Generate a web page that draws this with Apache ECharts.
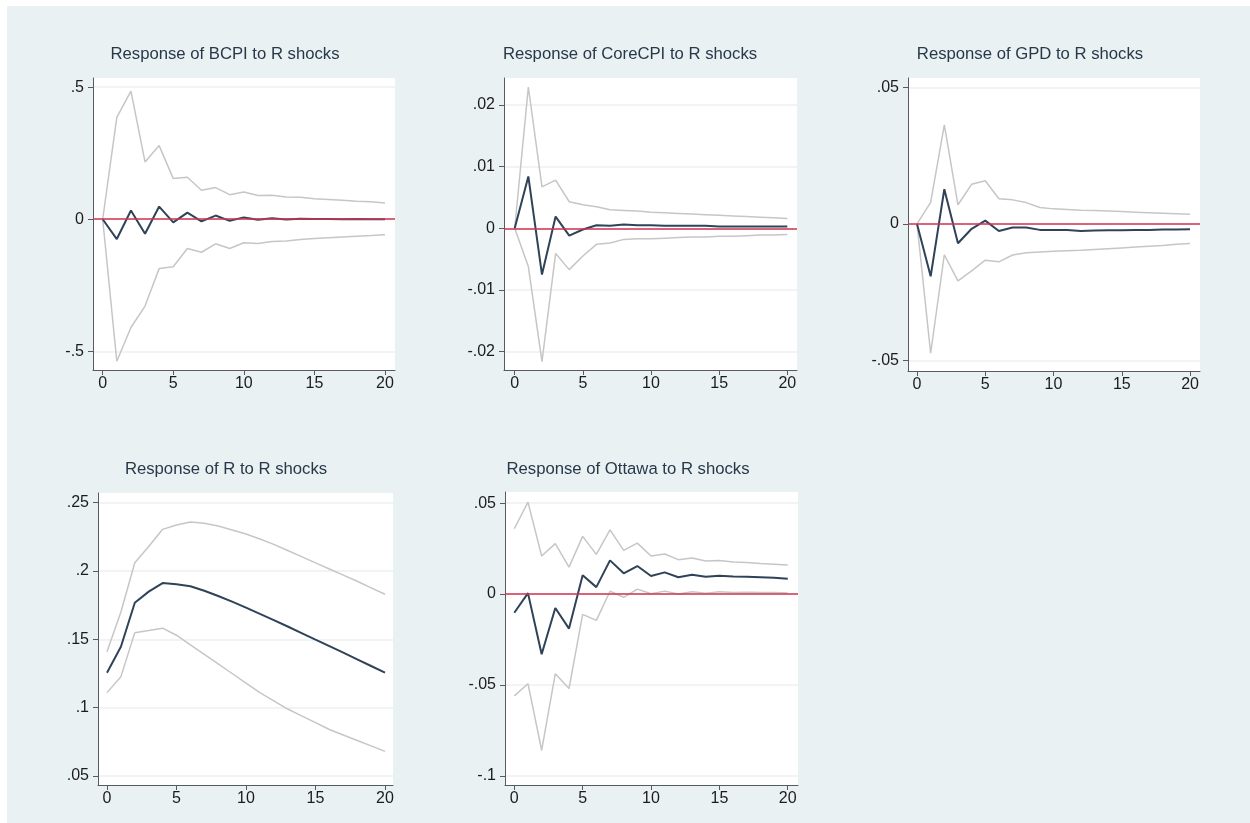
<!DOCTYPE html>
<html>
<head>
<meta charset="utf-8">
<title>Impulse responses to R shocks</title>
<script src="https://cdn.jsdelivr.net/npm/echarts@6/dist/echarts.min.js"></script>
<style>
  html, body { margin: 0; padding: 0; background: #ffffff; }
  #chart { position: absolute; left: 7px; top: 6px; width: 1243px; height: 817px; }
</style>
</head>
<body>
<div id="chart"></div>
<script>
// 期数 (horizon)
const periods = [0, 1, 2, 3, 4, 5, 6, 7, 8, 9, 10, 11, 12, 13, 14, 15, 16, 17, 18, 19, 20];
const xTicks = [0, 5, 10, 15, 20];

// BCPI
const bcpiIrf = [0, -0.075, 0.033, -0.055, 0.048, -0.012, 0.025, -0.008, 0.014, -0.006, 0.007, -0.002, 0.004, -0.001, 0.002, 0.001, 0.001, 0.0, 0.001, 0.0, 0.0];
const bcpiUpper = [0, 0.386, 0.485, 0.217, 0.279, 0.154, 0.159, 0.110, 0.120, 0.093, 0.103, 0.090, 0.091, 0.084, 0.083, 0.078, 0.075, 0.072, 0.068, 0.066, 0.062];
const bcpiLower = [0, -0.538, -0.410, -0.329, -0.187, -0.180, -0.111, -0.125, -0.093, -0.111, -0.089, -0.092, -0.084, -0.082, -0.077, -0.073, -0.070, -0.067, -0.064, -0.062, -0.059];
const bcpiTicks = [-0.5, 0, 0.5];

// CoreCPI
const coreIrf = [0, 0.0084, -0.0075, 0.0019, -0.0012, -0.0002, 0.0005, 0.0004, 0.0006, 0.0005, 0.0005, 0.0004, 0.0004, 0.0004, 0.0004, 0.0003, 0.0003, 0.0003, 0.0003, 0.0003, 0.0003];
const coreUpper = [0, 0.0229, 0.0067, 0.0078, 0.0043, 0.0038, 0.0035, 0.0030, 0.0029, 0.0028, 0.0026, 0.0025, 0.0024, 0.0023, 0.0022, 0.0021, 0.0020, 0.0019, 0.0018, 0.0017, 0.0016];
const coreLower = [0, -0.0062, -0.0216, -0.0041, -0.0067, -0.0045, -0.0026, -0.0024, -0.0018, -0.0017, -0.0017, -0.0016, -0.0015, -0.0014, -0.0014, -0.0013, -0.0013, -0.0012, -0.0011, -0.0011, -0.0010];
const coreTicks = [-0.02, -0.01, 0, 0.01, 0.02];

// GPD
const gpdIrf = [0, -0.0192, 0.0127, -0.0071, -0.0018, 0.0012, -0.0026, -0.0013, -0.0013, -0.0022, -0.0022, -0.0022, -0.0026, -0.0024, -0.0023, -0.0023, -0.0022, -0.0022, -0.0021, -0.0021, -0.0020];
const gpdUpper = [0, 0.0079, 0.0363, 0.0070, 0.0145, 0.0158, 0.0092, 0.0088, 0.0078, 0.0060, 0.0055, 0.0053, 0.0050, 0.0049, 0.0047, 0.0045, 0.0043, 0.0041, 0.0039, 0.0037, 0.0035];
const gpdLower = [0, -0.0474, -0.0113, -0.0209, -0.0172, -0.0133, -0.0139, -0.0114, -0.0106, -0.0103, -0.0100, -0.0098, -0.0097, -0.0094, -0.0091, -0.0088, -0.0085, -0.0082, -0.0079, -0.0075, -0.0072];
const gpdTicks = [-0.05, 0, 0.05];

// R
const rIrf = [0.1256, 0.1446, 0.1768, 0.1849, 0.1912, 0.1903, 0.1889, 0.1856, 0.1817, 0.1776, 0.1732, 0.1686, 0.1641, 0.1594, 0.1546, 0.1498, 0.1451, 0.1403, 0.1353, 0.1305, 0.1256];
const rUpper = [0.141, 0.170, 0.206, 0.218, 0.2305, 0.2337, 0.2358, 0.2349, 0.2329, 0.2300, 0.2271, 0.2234, 0.2195, 0.2150, 0.2105, 0.2060, 0.2015, 0.1970, 0.1925, 0.1877, 0.1830];
const rLower = [0.111, 0.1227, 0.1549, 0.1565, 0.1582, 0.153, 0.146, 0.139, 0.132, 0.125, 0.118, 0.111, 0.105, 0.099, 0.094, 0.089, 0.084, 0.080, 0.076, 0.072, 0.068];
const rTicks = [0.05, 0.1, 0.15, 0.2, 0.25];

// Ottawa
const ottIrf = [-0.0103, 0.0005, -0.0331, -0.0077, -0.0190, 0.0103, 0.0038, 0.0185, 0.0114, 0.0154, 0.0099, 0.0119, 0.0092, 0.0106, 0.0095, 0.0100, 0.0096, 0.0095, 0.0092, 0.0089, 0.0084];
const ottUpper = [0.0359, 0.0505, 0.0209, 0.0277, 0.0148, 0.0317, 0.0218, 0.0353, 0.0240, 0.0280, 0.0209, 0.0220, 0.0189, 0.0198, 0.0182, 0.0185, 0.0176, 0.0173, 0.0168, 0.0164, 0.0159];
const ottLower = [-0.0560, -0.0493, -0.0859, -0.0438, -0.0520, -0.0112, -0.0145, 0.0015, -0.0018, 0.0027, 0.0002, 0.0016, 0.0000, 0.0013, 0.0005, 0.0012, 0.0008, 0.0010, 0.0008, 0.0008, 0.0005];
const ottTicks = [-0.1, -0.05, 0, 0.05];

const zeroLine = 0;

// 页面偏移
const OX = 7, OY = 6;

// 各子图布局 (page pixels) 与坐标范围
const panels = [
    { title: 'Response of BCPI to R shocks', tx: 225, ty: 54, x0: 93, x1: 395, y0: 78, y1: 370,
      xMin: -0.687, xMax: 20.71, yMin: -0.571, yMax: 0.535, yTicks: bcpiTicks,
      irf: bcpiIrf, upper: bcpiUpper, lower: bcpiLower, zero: true },
    { title: 'Response of CoreCPI to R shocks', tx: 630, ty: 54, x0: 504, x1: 797, y0: 78, y1: 370,
      xMin: -0.786, xMax: 20.71, yMin: -0.02297, yMax: 0.02436, yTicks: coreTicks,
      irf: coreIrf, upper: coreUpper, lower: coreLower, zero: true },
    { title: 'Response of GPD to R shocks', tx: 1030, ty: 54, x0: 908, x1: 1200, y0: 78, y1: 371,
      xMin: -0.66, xMax: 20.73, yMin: -0.0539, yMax: 0.05345, yTicks: gpdTicks,
      irf: gpdIrf, upper: gpdUpper, lower: gpdLower, zero: true },
    { title: 'Response of R to R shocks', tx: 226, ty: 469, x0: 98, x1: 393, y0: 493, y1: 785,
      xMin: -0.647, xMax: 20.575, yMin: 0.0434, yMax: 0.2571, yTicks: rTicks,
      irf: rIrf, upper: rUpper, lower: rLower, zero: false },
    { title: 'Response of Ottawa to R shocks', tx: 628, ty: 469, x0: 505, x1: 798, y0: 492, y1: 785,
      xMin: -0.68, xMax: 20.75, yMin: -0.105, yMax: 0.0561, yTicks: ottTicks,
      irf: ottIrf, upper: ottUpper, lower: ottLower, zero: true }
];

function fmt(v) {
    if (Math.abs(v) < 1e-12) return '0';
    const s = String(+v.toFixed(4));
    return s.replace(/^(-?)0\./, '$1.');
}

function pairs(ys) {
    return periods.map((p, i) => [p, ys[i]]);
}

const FONT = '"Liberation Sans", Arial, sans-serif';
const AXIS_COLOR = '#555b61';
const BAND_COLOR = '#c6c6c6';
const IRF_COLOR = '#2f4358';
const ZERO_COLOR = '#d03550';

const grids = [], xAxes = [], yAxes = [], series = [];

panels.forEach((p, i) => {
    grids.push({
        left: p.x0 - OX, top: p.y0 - OY,
        width: p.x1 - p.x0, height: p.y1 - p.y0,
        backgroundColor: '#ffffff', show: true, borderWidth: 0
    });
    xAxes.push({
        type: 'value', gridIndex: i, min: p.xMin, max: p.xMax,
        axisLine: { show: true, onZero: false, lineStyle: { color: AXIS_COLOR, width: 1 } },
        axisTick: { show: true, length: 5, customValues: xTicks, lineStyle: { color: AXIS_COLOR } },
        axisLabel: { customValues: xTicks, margin: 6, fontSize: 16, color: '#1c1c1c', fontFamily: FONT, formatter: fmt },
        splitLine: { show: false }
    });
    yAxes.push({
        type: 'value', gridIndex: i, min: p.yMin, max: p.yMax,
        axisLine: { show: true, onZero: false, lineStyle: { color: AXIS_COLOR, width: 1 } },
        axisTick: { show: true, length: 5, customValues: p.yTicks, lineStyle: { color: AXIS_COLOR } },
        axisLabel: { customValues: p.yTicks, margin: 9, fontSize: 16, color: '#1c1c1c', fontFamily: FONT, formatter: fmt },
        splitLine: { show: true, lineStyle: { color: '#edf1f2', width: 1.5 } }
    });
    const base = { type: 'line', xAxisIndex: i, yAxisIndex: i, showSymbol: false, silent: true };
    series.push(Object.assign({}, base, {
        name: 'lower', data: pairs(p.lower), lineStyle: { color: BAND_COLOR, width: 1.5 }, z: 2
    }));
    series.push(Object.assign({}, base, {
        name: 'upper', data: pairs(p.upper), lineStyle: { color: BAND_COLOR, width: 1.5 }, z: 2
    }));
    const irf = Object.assign({}, base, {
        name: 'irf', data: pairs(p.irf), lineStyle: { color: IRF_COLOR, width: 2 }, z: 3
    });
    if (p.zero) {
        irf.markLine = {
            silent: true, symbol: 'none', label: { show: false },
            lineStyle: { color: ZERO_COLOR, width: 1.6, type: 'solid' },
            data: [{ yAxis: zeroLine }]
        };
    }
    series.push(irf);
});

const chart = echarts.init(document.getElementById('chart'));
chart.setOption({
    backgroundColor: '#eaf1f2',
    animation: false,
    grid: grids,
    xAxis: xAxes,
    yAxis: yAxes,
    series: series,
    // 标题：按中心点放置
    graphic: panels.map(p => ({
        type: 'text', x: p.tx - OX, y: p.ty - OY,
        style: { text: p.title, fill: '#27384a', font: '16.7px ' + FONT, align: 'center', verticalAlign: 'middle' }
    }))
});

window.addEventListener('resize', function() {
    chart.resize();
});
</script>
</body>
</html>
